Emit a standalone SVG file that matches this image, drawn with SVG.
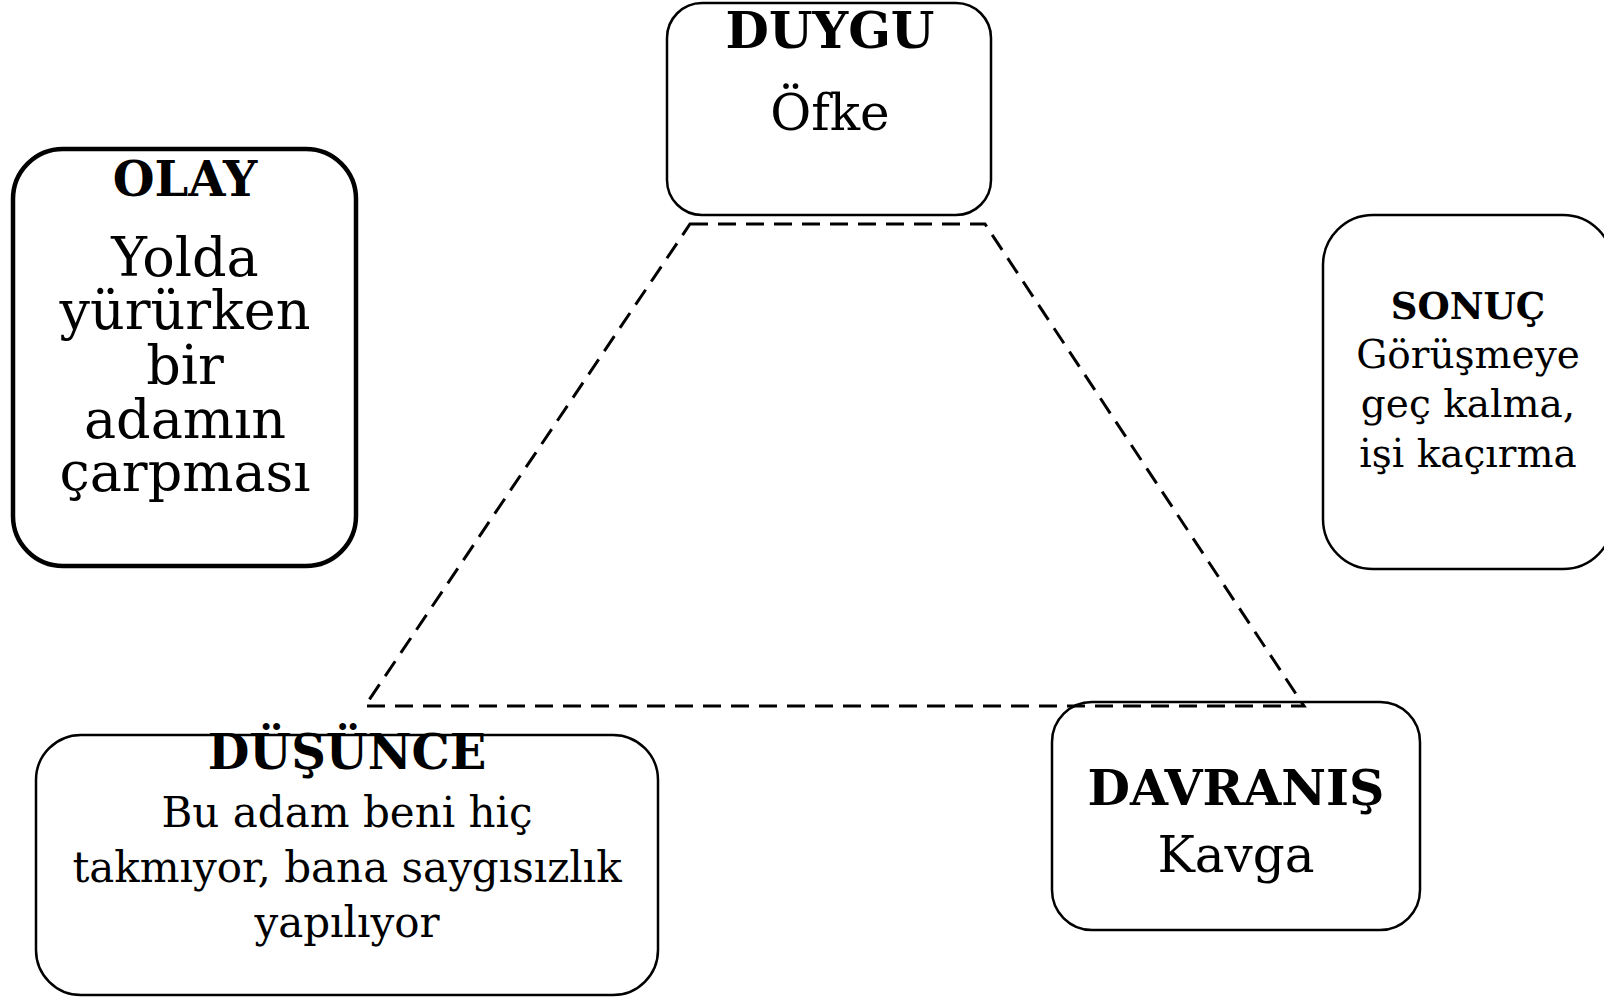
<svg xmlns="http://www.w3.org/2000/svg" width="1604" height="997" viewBox="0 0 1604 997">
<style>
.box{fill:#fff;stroke:#000;stroke-width:2.5}
.thick{stroke-width:4.5}
.t{font-family:"DejaVu Serif","Liberation Serif",serif;fill:#000;text-anchor:middle}
.b{font-weight:bold}
.con{fill:none;stroke:#000;stroke-width:3;stroke-dasharray:18 10}
</style>
<rect width="1604" height="997" fill="#fff"/>
<g id="olay">
<rect class="box thick" x="13" y="149" width="343" height="417" rx="50"/>
<text class="t b" x="185" y="196" font-size="48">OLAY</text>
<text class="t" font-size="54" x="185"><tspan x="185" y="276">Yolda</tspan><tspan x="185" y="329">yürürken</tspan><tspan x="185" y="384">bir</tspan><tspan x="185" y="438">adamın</tspan><tspan x="185" y="491">çarpması</tspan></text>
</g>
<g id="duygu">
<rect class="box" x="667" y="3" width="324" height="212" rx="35"/>
<text class="t b" x="830" y="48" font-size="50">DUYGU</text>
<text class="t" x="830" y="130" font-size="50">Öfke</text>
</g>
<g id="sonuc">
<rect class="box" x="1323" y="215" width="290" height="354" rx="50"/>
<text class="t b" x="1468" y="319" font-size="37">SONUÇ</text>
<text class="t" font-size="39"><tspan x="1468" y="368">Görüşmeye</tspan><tspan x="1468" y="417">geç kalma,</tspan><tspan x="1468" y="467">işi kaçırma</tspan></text>
</g>
<g id="dusunce">
<rect class="box" x="36" y="735" width="622" height="260" rx="45"/>
<text class="t b" x="347" y="769" font-size="48">DÜŞÜNCE</text>
<text class="t" font-size="42"><tspan x="347" y="827">Bu adam beni hiç</tspan><tspan x="347" y="882">takmıyor, bana saygısızlık</tspan><tspan x="347" y="937">yapılıyor</tspan></text>
</g>
<g id="davranis">
<rect class="box" x="1052" y="702" width="368" height="228" rx="40"/>
<text class="t b" x="1236" y="805" font-size="49">DAVRANIŞ</text>
<text class="t" x="1236" y="872" font-size="50">Kavga</text>
</g>
<g id="connectors">
<path class="con" d="M690 224 L985 224 L1304 706 L365 706 Z"/>
</g>
</svg>
